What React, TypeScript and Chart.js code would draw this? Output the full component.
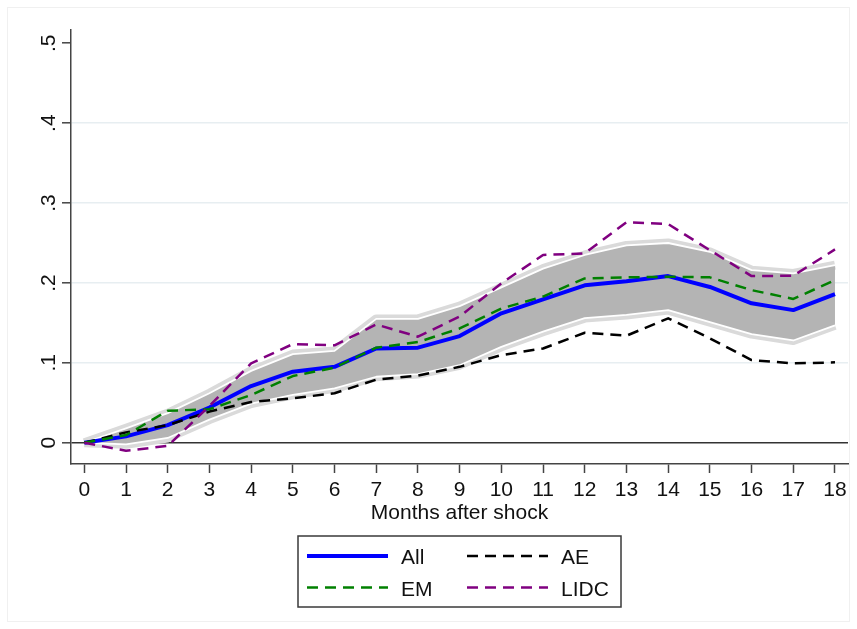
import { useEffect, useRef } from "react";
import { Chart, registerables } from "chart.js";

Chart.register(...registerables);

// Months after the shock (x axis)
const months = [0, 1, 2, 3, 4, 5, 6, 7, 8, 9, 10, 11, 12, 13, 14, 15, 16, 17, 18];

// Cumulative response, all countries, with its confidence band
const allCountries = [0, 0.008, 0.022, 0.044, 0.071, 0.089, 0.095, 0.118, 0.119, 0.1335, 0.162, 0.1795, 0.197, 0.202, 0.2086, 0.195, 0.1745, 0.166, 0.186];
const bandHigh = [0, 0.018, 0.037, 0.062, 0.09, 0.111, 0.115, 0.155, 0.155, 0.171, 0.1945, 0.218, 0.235, 0.247, 0.25, 0.239, 0.216, 0.212, 0.2224];
const bandLow = [0, -0.002, 0.006, 0.029, 0.049, 0.06, 0.068, 0.0826, 0.086, 0.097, 0.12, 0.139, 0.156, 0.16, 0.166, 0.151, 0.136, 0.128, 0.147];

// Country groups
const advanced = [0, 0.013, 0.022, 0.039, 0.051, 0.0556, 0.062, 0.079, 0.084, 0.095, 0.1097, 0.118, 0.1377, 0.134, 0.1557, 0.1307, 0.1035, 0.0994, 0.1006];
const emerging = [0, 0.0096, 0.04, 0.042, 0.0597, 0.0835, 0.094, 0.119, 0.126, 0.143, 0.168, 0.183, 0.2057, 0.207, 0.2078, 0.207, 0.191, 0.18, 0.2036];
const lowIncome = [0, -0.01, -0.004, 0.046, 0.0994, 0.1235, 0.122, 0.148, 0.1327, 0.158, 0.1995, 0.235, 0.237, 0.276, 0.2737, 0.241, 0.2086, 0.209, 0.242];

// Y axis ticks and their labels
const yTickValues = [0, 0.1, 0.2, 0.3, 0.4, 0.5];
const yTickLabels = ["0", ".1", ".2", ".3", ".4", ".5"];

// Legend entries, laid out row by row in two columns
const legendOrder = ["All", "AE", "EM", "LIDC"];

const FONT = '"Liberation Sans", Arial, Helvetica, sans-serif';
const DASH = [11, 7];

const toPoints = (values: number[]) => months.map((m, i) => ({ x: m, y: values[i] }));

const backgroundPlugin = {
  id: "pageBackground",
  beforeDraw(chart: any) {
    const { ctx, width, height } = chart;
    ctx.save();
    ctx.fillStyle = "#ffffff";
    ctx.fillRect(0, 0, width, height);
    ctx.strokeStyle = "#f0f0f0";
    ctx.lineWidth = 1;
    ctx.strokeRect(7.5, 7.5, width - 15, height - 15);
    ctx.restore();
  },
};

// Vertical (rotated) labels for the y axis
const rotatedYTicksPlugin = {
  id: "rotatedYTicks",
  afterDraw(chart: any) {
    const { ctx } = chart;
    const yScale = chart.scales.y;
    ctx.save();
    ctx.fillStyle = "#111111";
    ctx.font = `21px ${FONT}`;
    ctx.textAlign = "center";
    ctx.textBaseline = "alphabetic";
    yTickValues.forEach((v, i) => {
      const py = yScale.getPixelForValue(v);
      ctx.save();
      ctx.translate(yScale.right - 16, py);
      ctx.rotate(-Math.PI / 2);
      ctx.fillText(yTickLabels[i], 0, 0);
      ctx.restore();
    });
    ctx.restore();
  },
};

// Boxed two-column legend below the axis title
const boxedLegendPlugin = {
  id: "boxedLegend",
  afterDraw(chart: any) {
    const { ctx, chartArea } = chart;
    const boxW = 323;
    const boxH = 71;
    const left = (chartArea.left + chartArea.right) / 2 - boxW / 2;
    const top = chartArea.bottom + 72;
    ctx.save();
    ctx.fillStyle = "#ffffff";
    ctx.fillRect(left, top, boxW, boxH);
    ctx.strokeStyle = "#3a3a3a";
    ctx.lineWidth = 1.5;
    ctx.strokeRect(left, top, boxW, boxH);

    const colOffsets = [0, 160];
    const rowCenters = [top + 20, top + 51.5];
    ctx.font = `21px ${FONT}`;
    ctx.textAlign = "left";
    ctx.textBaseline = "alphabetic";
    legendOrder.forEach((name, i) => {
      const ds = chart.data.datasets.find((d: any) => d.label === name);
      if (!ds) return;
      const col = i % 2;
      const row = Math.floor(i / 2);
      const x0 = left + 9 + colOffsets[col];
      const y = rowCenters[row];
      ctx.save();
      ctx.strokeStyle = ds.borderColor;
      ctx.lineWidth = ds.borderWidth;
      ctx.setLineDash(ds.borderDash || []);
      ctx.beginPath();
      ctx.moveTo(x0, y);
      ctx.lineTo(x0 + 81, y);
      ctx.stroke();
      ctx.restore();
      ctx.fillStyle = "#111111";
      ctx.fillText(name, x0 + 94, y + 8);
    });
    ctx.restore();
  },
};

export default function App() {
  const canvasRef = useRef<HTMLCanvasElement | null>(null);

  useEffect(() => {
    const canvas = canvasRef.current;
    if (!canvas) return;

    const chart = new Chart(canvas, {
      type: "line",
      data: {
        datasets: [
          // 0: light halo around the band edges
          { label: "haloHigh", data: toPoints(bandHigh), borderColor: "#dadada", borderWidth: 9, pointRadius: 0, fill: false, order: 9 },
          { label: "haloLow", data: toPoints(bandLow), borderColor: "#dadada", borderWidth: 9, pointRadius: 0, fill: false, order: 9 },
          // 2-3: confidence band
          { label: "bandLow", data: toPoints(bandLow), borderColor: "#ffffff", borderWidth: 1.8, pointRadius: 0, fill: false, order: 7 },
          { label: "bandHigh", data: toPoints(bandHigh), borderColor: "#ffffff", borderWidth: 1.8, pointRadius: 0, fill: { target: 2 }, backgroundColor: "#b4b4b4", order: 8 },
          // group responses
          { label: "All", data: toPoints(allCountries), borderColor: "#0000ff", borderWidth: 4, pointRadius: 0, fill: false, order: 4 },
          { label: "AE", data: toPoints(advanced), borderColor: "#000000", borderWidth: 2.5, borderDash: DASH, pointRadius: 0, fill: false, order: 3 },
          { label: "EM", data: toPoints(emerging), borderColor: "#008000", borderWidth: 2.5, borderDash: DASH, pointRadius: 0, fill: false, order: 2 },
          { label: "LIDC", data: toPoints(lowIncome), borderColor: "#800080", borderWidth: 2.5, borderDash: DASH, pointRadius: 0, fill: false, order: 1 },
        ],
      },
      options: {
        animation: false,
        responsive: false,
        devicePixelRatio: 1,
        layout: { padding: { top: 30, right: 9, bottom: 101, left: 0 } },
        plugins: {
          legend: { display: false },
          tooltip: { enabled: false },
        },
        elements: { line: { tension: 0, borderCapStyle: "butt", borderJoinStyle: "round" } },
        scales: {
          x: {
            type: "linear",
            min: -0.319,
            max: 18.312,
            afterBuildTicks: (s: any) => {
              s.ticks = months.map((v) => ({ value: v }));
            },
            afterFit: (s: any) => {
              s.height = 64;
            },
            grid: { drawOnChartArea: false, drawTicks: true, tickLength: 9, tickColor: "#444444", tickWidth: 1.5 },
            border: { display: true, color: "#444444", width: 1.5 },
            ticks: {
              padding: 5,
              color: "#111111",
              autoSkip: false,
              maxRotation: 0,
              font: { family: FONT, size: 21 },
              callback: (v: any) => String(v),
            },
            title: {
              display: true,
              text: "Months after shock",
              color: "#111111",
              font: { family: FONT, size: 21 },
              padding: { top: 0, bottom: 2.4 },
            },
          },
          y: {
            type: "linear",
            min: -0.0266,
            max: 0.5166,
            afterBuildTicks: (s: any) => {
              s.ticks = yTickValues.map((v) => ({ value: v }));
            },
            afterFit: (s: any) => {
              s.width = 71;
            },
            ticks: { display: false },
            grid: {
              drawTicks: true,
              tickLength: 9,
              tickColor: "#444444",
              tickWidth: 1.5,
              color: (c: any) => {
                const v = c.tick ? c.tick.value : null;
                if (v === 0) return "#333333";
                if (v === 0.5) return "rgba(0,0,0,0)";
                return "#e7eef1";
              },
              lineWidth: (c: any) => (c.tick && c.tick.value === 0 ? 1.6 : 1.6),
            },
            border: { display: true, color: "#444444", width: 1.5 },
          },
        },
      },
      plugins: [backgroundPlugin, rotatedYTicksPlugin, boxedLegendPlugin],
    } as any);

    return () => chart.destroy();
  }, []);

  return (
    <canvas
      ref={canvasRef}
      width={857}
      height={629}
      style={{ position: "absolute", left: 0, top: 0 }}
    />
  );
}
